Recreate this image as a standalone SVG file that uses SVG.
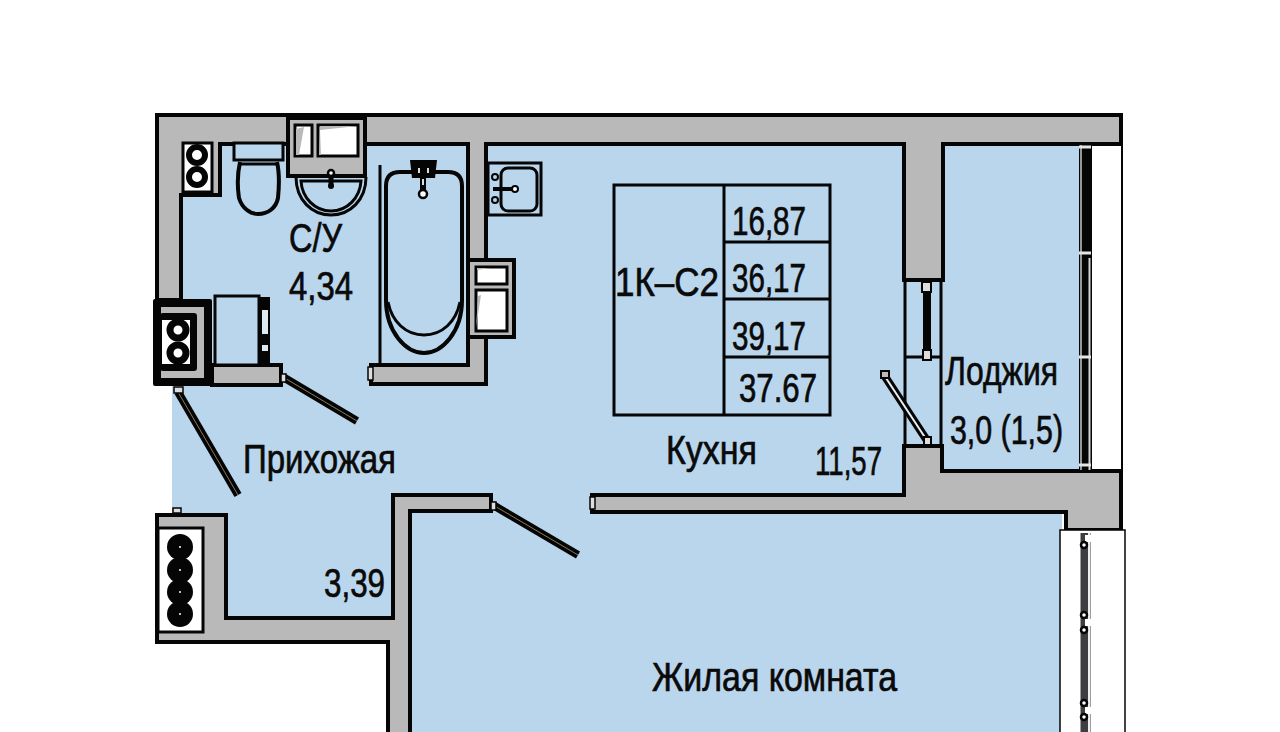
<svg xmlns="http://www.w3.org/2000/svg" width="1280" height="732" viewBox="0 0 1280 732">
<style>
.w{fill:#b9b9b9;stroke:#050505;stroke-width:4;stroke-linejoin:miter}
.l{fill:none;stroke:#050505;stroke-width:3}
.t{fill:none;stroke:#050505;stroke-width:4}
.b{fill:#bad6ec;stroke:#050505;stroke-width:3}
.p{fill:#fff;stroke:#050505;stroke-width:3}
.k{fill:#050505}
.h{fill:#fff}
.d{stroke:#050505;stroke-width:8;fill:none}
.dc{stroke:#8a7a60;stroke-width:1;fill:none}
.c{fill:#ddd;stroke:#050505;stroke-width:1.500}
.r{fill:#fff;stroke:#050505;stroke-width:2.500}
text{font-family:"Liberation Sans","DejaVu Sans",sans-serif;font-size:40px;fill:#0a0a0a;stroke:#0a0a0a;stroke-width:0.700}
</style>
<rect width="1280" height="732" fill="#fff"/>
<path id="floor" fill="#bad6ec" d="M172 143H1082V475H1062V732H387V640H226V514H172Z"/>
<g id="walls">
<path class="w" d="M157 115H1121V144H943V280H904V144H486V384H371V365H468V144H220V195H181V300H157Z"/>
<path class="w" d="M904 446H942V471H1121V530H1066V512H592V495H904Z"/>
<path class="w" d="M393 495H491V511H410V736H388V642H157V515H226V618H393Z"/>
<rect class="w" x="212" y="365" width="69" height="20"/>
</g>
<g id="loggia-window">
<path d="M1085.500 145V470" stroke="#050505" stroke-width="13" fill="none"/>
<path d="M1081 145V470" stroke="#c8c8c8" stroke-width="1.500" fill="none"/>
<path d="M1089.500 258V470" stroke="#d5d5d5" stroke-width="2" fill="none"/>
<path d="M1079 147H1091M1079 253H1091M1079 357H1091M1079 465H1091" stroke="#e5e5e5" stroke-width="3" fill="none"/>
<path d="M1122 144V472" stroke="#050505" stroke-width="2" fill="none"/>
</g>
<g id="room-window">
<path d="M1060 530H1125V736H1060Z" fill="#fff" stroke="#050505" stroke-width="1.500"/>
<path d="M1085.500 533V732" stroke="#3e3e42" stroke-width="10" fill="none"/>
<path d="M1089 533V732" stroke="#eee" stroke-width="2" fill="none"/>
<path d="M1085 535h7v7h-7zM1085 619h7v7h-7zM1085 707h7v7h-7z" fill="#fff"/>
<circle cx="1084" cy="545" r="3" class="r"/>
<circle cx="1084" cy="615" r="3" class="r"/>
<circle cx="1084" cy="630" r="3" class="r"/>
<circle cx="1084" cy="703" r="3" class="r"/>
<circle cx="1084" cy="717" r="3" class="r"/>
</g>
<g id="loggia-door">
<path class="l" d="M905 280V446M941 280V446M904 357H942"/>
<path d="M927 282V360" stroke="#050505" stroke-width="8"/>
<rect x="922" y="282" width="9" height="10" fill="#ddd" stroke="#050505" stroke-width="2"/>
<rect x="923" y="350" width="8" height="10" fill="#ddd" stroke="#050505" stroke-width="2"/>
<path d="M884 375L928 442" stroke="#050505" stroke-width="8"/>
<path d="M884 375L928 442" stroke="#e8eef2" stroke-width="2"/>
<rect x="881" y="371" width="8" height="7" fill="#bbb" stroke="#050505" stroke-width="2"/>
<rect x="924" y="437" width="7" height="8" fill="#ddd" stroke="#050505" stroke-width="2"/>
</g>
<g id="doors">
<path class="d" d="M178 392L238 495"/><path class="dc" d="M178 392L238 495"/>
<path class="d" d="M283 377L357 421"/><path class="dc" d="M283 377L357 421"/>
<path class="d" d="M493 505L578 555"/><path class="dc" d="M493 505L578 555"/>
<rect x="368" y="367" width="5" height="13" class="c"/>
<rect x="590" y="497" width="5" height="12" class="c"/>
<rect x="173" y="508" width="8" height="5" class="c"/>
<rect x="174" y="387" width="9" height="6" class="c"/>
<rect x="281" y="374" width="5" height="8" class="c"/>
<rect x="491" y="502" width="5" height="8" class="c"/>
</g>
<g id="stack-top">
<rect x="183" y="143" width="29" height="49" fill="#fff" stroke="#050505" stroke-width="3"/>
<circle cx="197" cy="155" r="8" fill="#fff" stroke="#050505" stroke-width="6"/>
<circle cx="197" cy="177" r="8" fill="#fff" stroke="#050505" stroke-width="6"/>
</g>
<g id="toilet">
<rect x="234" y="143" width="49" height="17" class="b"/>
<path class="t" d="M240 162C236 180 238 190 239 198C242 208 250 214 258 214C268 214 276 208 278 198C279 188 280 175 277 162"/>
<path class="l" d="M240 164H277"/>
</g>
<g id="duct">
<rect x="288" y="118" width="77" height="58" class="w"/>
<rect x="295" y="125" width="17" height="31" class="p"/>
<rect x="318" y="125" width="40" height="31" class="p"/>
<path d="M296 129L304 127L299 155H296Z" fill="#b9b9b9"/>
<path d="M320 130L358 126H320Z M320 130L321 155H319Z" fill="#b9b9b9"/>
</g>
<g id="basin">
<path class="l" d="M296 177C296 200 312 215 331 215C350 215 366 200 366 177"/>
<path class="l" d="M301 181H361C360 198 347 211 331 211C315 211 302 198 301 181Z"/>
<path d="M331 172V187" stroke="#050505" stroke-width="5"/>
<circle cx="331" cy="173" r="3" class="r"/>
<circle cx="331" cy="186" r="3" class="k"/>
</g>
<g id="bath">
<path class="l" d="M380 165V364"/>
<path class="t" d="M386 300V186Q386 172 400 172H448Q462 172 462 186V300C462 332 442 353 424 353C406 353 386 332 386 300Z"/>
<path class="l" d="M388 302C392 322 406 335 424 335C442 335 456 322 460 302"/>
<path d="M410 160H437L435 178H412Z" class="k"/>
<path d="M423 178V192" stroke="#050505" stroke-width="6"/>
<circle cx="423" cy="194" r="4" class="r"/>
<path d="M418 168h2v5h-2zM427 168h2v5h-2zM422 179h2v6h-2z" fill="#ddd"/>
</g>
<g id="kitchen-sink">
<rect x="488" y="163" width="53" height="52" class="b"/>
<rect x="501" y="168" width="36" height="43" rx="7" class="b"/>
<circle cx="495" cy="177" r="3" fill="none" stroke="#050505" stroke-width="2"/>
<circle cx="495" cy="200" r="3" fill="none" stroke="#050505" stroke-width="2"/>
<path d="M493 189H513" stroke="#050505" stroke-width="4"/>
<circle cx="515" cy="189" r="3" fill="#fff" stroke="#050505" stroke-width="2"/>
</g>
<g id="shaft">
<rect x="468" y="260" width="46" height="77" class="w"/>
<rect x="476" y="267" width="31" height="17" class="p"/>
<rect x="476" y="290" width="31" height="41" class="p"/>
<path d="M477 270L490 268H477ZM478 296L476 328L481 295Z" fill="#b9b9b9"/>
</g>
<g id="stack-left">
<rect x="153" y="299" width="59" height="87" rx="2" class="k"/>
<rect x="161" y="307" width="43" height="71" fill="#b9b9b9"/>
<rect x="160" y="313" width="37" height="58" rx="3" class="k"/>
<rect x="162" y="320" width="28" height="44" fill="#fff"/>
<circle cx="178" cy="330" r="8" fill="#fff" stroke="#050505" stroke-width="7"/>
<circle cx="178" cy="353" r="8" fill="#fff" stroke="#050505" stroke-width="7"/>
</g>
<g id="washer">
<rect x="215" y="296" width="44" height="69" class="b"/>
<rect x="259" y="297" width="11" height="68" class="k"/>
<rect x="262" y="310" width="6" height="24" fill="#dfe8ee"/>
<rect x="262" y="345" width="6" height="6" fill="#dfe8ee"/>
</g>
<g id="stack-bottom">
<rect x="158" y="528" width="45" height="104" class="p"/>
<circle cx="180" cy="547" r="13" class="k"/><circle cx="180" cy="570" r="13" class="k"/>
<circle cx="180" cy="592" r="13" class="k"/><circle cx="180" cy="614" r="13" class="k"/>
<circle cx="180" cy="547" r="1" class="h"/><circle cx="180" cy="570" r="1" class="h"/>
<circle cx="180" cy="592" r="1" class="h"/><circle cx="180" cy="614" r="1" class="h"/>
</g>
<g id="table">
<rect x="614" y="185" width="216" height="230" class="l"/>
<path class="l" d="M724 185V415M724 242H830M724 299H830M724 357H830"/>
<text x="615" y="296" textLength="104" lengthAdjust="spacingAndGlyphs">1К–С2</text>
<text x="732" y="235" textLength="74" lengthAdjust="spacingAndGlyphs">16,87</text>
<text x="732" y="292" textLength="74" lengthAdjust="spacingAndGlyphs">36,17</text>
<text x="732" y="350" textLength="74" lengthAdjust="spacingAndGlyphs">39,17</text>
<text x="739" y="402" textLength="78" lengthAdjust="spacingAndGlyphs">37.67</text>
</g>
<g id="labels">
<text x="289" y="252" textLength="53" lengthAdjust="spacingAndGlyphs">С/У</text>
<text x="289" y="300" textLength="64" lengthAdjust="spacingAndGlyphs">4,34</text>
<text x="243" y="473" textLength="153" lengthAdjust="spacingAndGlyphs">Прихожая</text>
<text x="666" y="464" textLength="91" lengthAdjust="spacingAndGlyphs">Кухня</text>
<text x="815" y="475" textLength="67" lengthAdjust="spacingAndGlyphs">11,57</text>
<text x="945" y="385" textLength="113" lengthAdjust="spacingAndGlyphs">Лоджия</text>
<text x="950" y="444" textLength="113" lengthAdjust="spacingAndGlyphs">3,0 (1,5)</text>
<text x="324" y="597" textLength="61" lengthAdjust="spacingAndGlyphs">3,39</text>
<text x="652" y="691" textLength="245" lengthAdjust="spacingAndGlyphs">Жилая комната</text>
</g>
</svg>
